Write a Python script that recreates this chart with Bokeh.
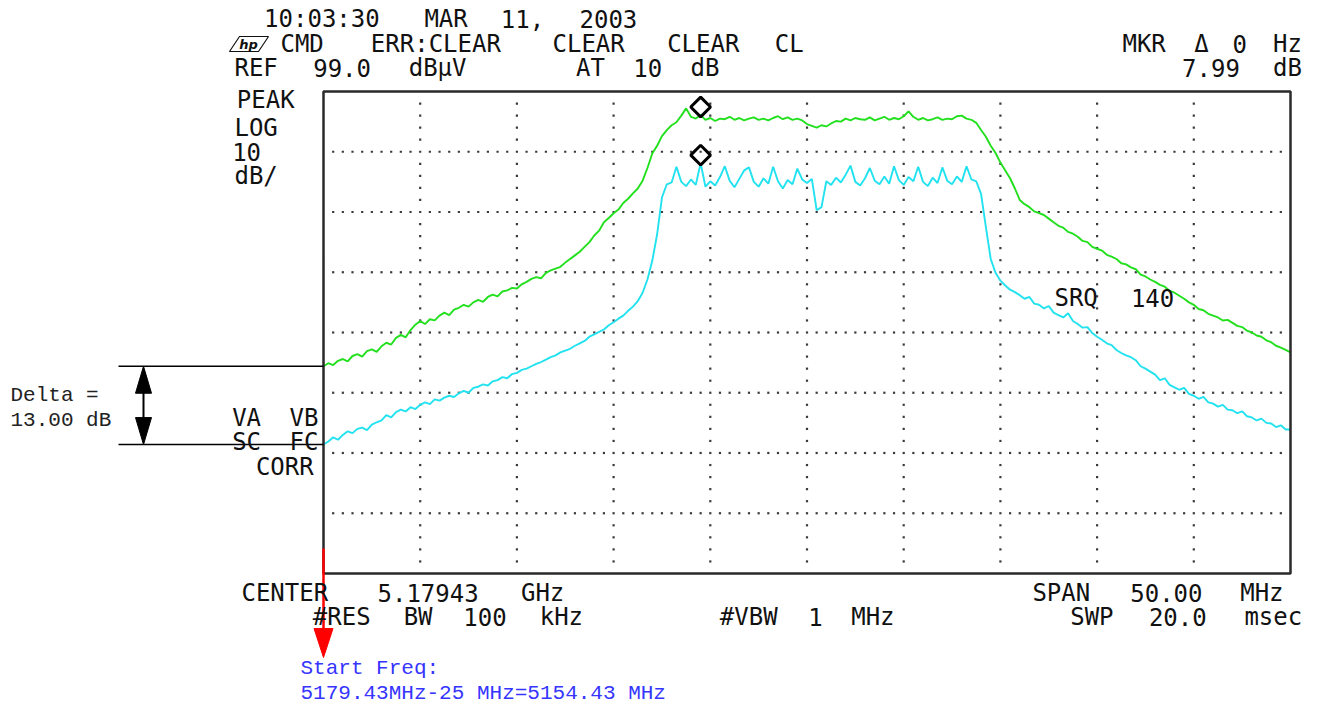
import re
import numpy as np
from bokeh.plotting import figure
from bokeh.models import Range1d, Label
from bokeh.embed import file_html
from bokeh.resources import INLINE

# ---- analyzer settings ----
CENTER_MHZ = 5179.43
SPAN_MHZ = 50.0
START_MHZ = CENTER_MHZ - SPAN_MHZ / 2
REF_DBUV = 99.0
DB_PER_DIV = 10
X_DIVS = 10
Y_DIVS = 8
STEP_MHZ = 0.25          # sweep point spacing
MKR_OFFSET_MHZ = 19.5    # marker position from start frequency

# trace A (green), dBuV, one value per sweep point from start to stop
trace_a = [
    53.4, 53.9, 53.6, 54.3, 54.6, 54.2, 55.1, 55.4, 55.0, 55.9, 56.2, 55.8, 56.7, 57.3, 57.0, 58.1, 58.6, 58.2, 59.4, 60.3, 60.9,
    60.4, 61.2, 61.0, 61.8, 62.3, 61.9, 62.8, 63.1, 63.6, 63.3, 64.0, 64.4, 64.1, 64.9, 65.3, 65.0, 65.8, 66.0, 66.4, 66.3,
    67.0, 67.4, 67.9, 68.2, 68.0, 68.9, 69.3, 69.6, 69.9, 70.6, 71.2, 71.8, 72.4, 73.2, 74.0, 75.1, 75.9, 77.3, 78.0, 78.8,
    79.4, 80.5, 81.2, 82.1, 82.9, 84.2, 86.3, 88.7, 90.0, 91.6, 92.6, 93.4, 93.9, 95.0, 96.2, 94.8, 94.5, 95.1, 94.3, 94.6,
    94.1, 94.5, 94.4, 94.8, 94.3, 94.6, 94.2, 94.5, 94.7, 94.3, 94.5, 94.2, 94.6, 94.9, 94.4, 94.7, 94.3, 94.5, 94.2, 93.6,
    93.3, 93.0, 93.4, 93.2, 93.7, 94.1, 94.0, 94.5, 94.2, 94.6, 94.4, 94.3, 94.7, 94.2, 94.5, 94.8, 94.3, 94.6, 94.4, 94.9,
    95.7, 94.8, 94.3, 94.6, 94.2, 94.4, 94.7, 94.3, 94.5, 94.4, 94.9, 95.0, 94.5, 94.3, 93.8, 92.6, 91.5, 90.0, 88.8, 87.2,
    85.9, 84.6, 82.9, 81.0, 80.3, 79.8, 79.1, 78.8, 78.5, 77.9, 77.3, 76.7, 76.4, 75.7, 75.4, 74.9, 74.2, 74.0, 73.2, 72.9,
    72.6, 71.9, 71.6, 71.2, 70.5, 70.3, 69.8, 69.5, 68.6, 68.3, 67.8, 67.4, 66.9, 66.6, 65.9, 65.6, 65.1, 64.6, 64.0, 63.6,
    62.9, 62.7, 62.1, 61.8, 61.5, 61.0, 61.1, 60.6, 60.1, 59.9, 59.3, 59.0, 58.5, 58.3, 57.7, 57.4, 56.8, 56.5, 56.1, 55.7,
]

# trace B (cyan), dBuV
trace_b = [
    40.4, 40.9, 41.6, 41.2, 42.0, 42.6, 42.3, 43.0, 43.2, 42.8, 43.7, 44.1, 44.4, 45.3, 44.9, 45.8, 46.2, 45.9, 46.6, 46.3, 47.0,
    47.4, 47.1, 47.9, 47.7, 48.2, 48.5, 48.3, 48.9, 49.3, 49.0, 49.8, 50.0, 50.4, 50.2, 50.9, 51.1, 51.6, 51.4, 52.1, 52.3,
    52.8, 53.0, 53.4, 53.8, 54.1, 54.5, 54.9, 55.2, 55.7, 56.0, 56.3, 56.8, 57.2, 57.6, 58.3, 58.7, 59.1, 59.5, 60.2, 60.7,
    61.3, 61.8, 62.6, 63.3, 64.2, 65.6, 67.8, 70.9, 75.3, 81.4, 83.6, 83.9, 86.5, 84.0, 83.3, 84.4, 83.5, 87.11, 83.2, 84.1,
    83.4, 84.8, 86.6, 84.2, 83.1, 84.5, 85.9, 86.4, 84.0, 83.2, 84.6, 83.7, 86.5, 84.1, 82.9, 84.3, 83.6, 86.2, 84.4, 83.8,
    84.5, 79.3, 79.8, 84.1, 83.5, 84.7, 83.9, 85.2, 86.7, 84.0, 83.4, 84.6, 86.3, 84.2, 83.6, 84.9, 83.7, 86.6, 84.3, 83.5,
    84.8, 84.1, 86.5, 84.0, 83.3, 84.7, 83.8, 86.4, 84.2, 83.6, 84.9, 84.0, 86.6, 84.4, 84.1, 82.0, 76.5, 71.2, 68.9, 67.6,
    66.8, 66.1, 65.7, 65.2, 64.6, 64.9, 63.8, 63.6, 63.0, 63.4, 62.3, 61.9, 61.5, 62.2, 60.9, 60.4, 59.8, 59.9, 58.9, 58.3,
    57.8, 57.2, 56.9, 56.1, 55.6, 55.2, 54.9, 54.4, 53.4, 53.0, 52.5, 52.0, 51.1, 51.4, 50.3, 49.9, 49.5, 49.8, 48.8, 48.5,
    48.0, 48.3, 47.4, 47.2, 46.7, 47.0, 46.2, 46.1, 45.6, 45.9, 45.1, 44.9, 44.4, 44.7, 44.0, 43.9, 43.3, 43.6, 42.9, 42.9,
]

assert len(trace_a) == len(trace_b)
freq = START_MHZ + STEP_MHZ * np.arange(len(trace_a))
mkr_i = int(round(MKR_OFFSET_MHZ / STEP_MHZ))
mkr_delta = trace_a[mkr_i] - trace_b[mkr_i]
start_delta = trace_a[0] - trace_b[0]
BOTTOM_DBUV = REF_DBUV - Y_DIVS * DB_PER_DIV

# ---- screen geometry (pixels) ----
W, H = 1325, 709
GX0, GX1, GY0, GY1 = 323, 1290, 91, 573      # graticule box
PX_MHZ = (GX1 - GX0) / SPAN_MHZ
PX_DB = (GY1 - GY0) / (Y_DIVS * DB_PER_DIV)


def fx(px):
    return START_MHZ + (px - GX0) / PX_MHZ


def fy(py):
    return REF_DBUV - (py - GY0) / PX_DB


p = figure(width=W, height=H, output_backend="svg", toolbar_location=None,
           x_range=Range1d(fx(0), fx(W)), y_range=Range1d(fy(H), fy(0)),
           x_axis_type=None, y_axis_type=None, min_border=0,
           outline_line_color=None, background_fill_color="white",
           border_fill_color="white")
p.grid.visible = False

# dotted graticule: 10 dots per horizontal division, 5 per vertical one
dx, dy = [], []
for k in range(1, Y_DIVS):
    lvl = REF_DBUV - k * DB_PER_DIV
    for j in range(1, X_DIVS * 10):
        dx.append(START_MHZ + j * SPAN_MHZ / (X_DIVS * 10))
        dy.append(lvl)
for m in range(1, X_DIVS):
    f = START_MHZ + m * SPAN_MHZ / X_DIVS
    for k in range(1, Y_DIVS * 5):
        if k % 5:
            dx.append(f)
            dy.append(REF_DBUV - k * DB_PER_DIV / 5)
p.scatter(dx, dy, marker="square", size=2.2, fill_color="#3a3a3a", line_color=None)

# traces
p.line(freq, trace_a, line_color="#22e01e", line_width=1.9)
p.line(freq, trace_b, line_color="#22e2f0", line_width=1.9)

# graticule frame
p.quad(left=[START_MHZ], right=[START_MHZ + SPAN_MHZ], bottom=[BOTTOM_DBUV], top=[REF_DBUV],
       fill_color=None, line_color="#2a2a2a", line_width=2.5)

# marker diamonds sit just above the trace point
mk_lift = 8 / PX_DB
p.scatter([freq[mkr_i]] * 2, [trace_a[mkr_i] + mk_lift, trace_b[mkr_i] + mk_lift],
          marker="square", angle=np.pi / 4, size=14, fill_color=None,
          line_color="black", line_width=3)

# ---- delta annotation between the trace start levels ----
a0, b0 = trace_a[0], trace_b[0]
xa = fx(143)
hl, hw = 27 / PX_DB, 8 / PX_MHZ
p.segment(x0=[fx(118)] * 2, y0=[a0, b0], x1=[START_MHZ] * 2, y1=[a0, b0],
          line_color="black", line_width=1.5)
p.segment(x0=[xa], y0=[a0 - hl / 2], x1=[xa], y1=[b0 + hl / 2], line_color="black", line_width=2)
p.patches(xs=[[xa - hw, xa, xa + hw], [xa - hw, xa, xa + hw]],
          ys=[[a0 - hl, a0, a0 - hl], [b0 + hl, b0, b0 + hl]],
          fill_color="black", line_color="black")

# ---- start frequency pointer ----
hwr = 9.5 / PX_MHZ
p.segment(x0=[START_MHZ], y0=[fy(548)], x1=[START_MHZ], y1=[fy(632)],
          line_color="#ff0000", line_width=2.5)
p.patch([START_MHZ - hwr, START_MHZ, START_MHZ + hwr], [fy(628), fy(657), fy(628)],
        fill_color="#ff0000", line_color="#ff0000")

# ---- analyzer screen text on a fixed character grid ----
HP_FONT = "DejaVu Sans Mono"
PITCH = 19.1


def hp_text(s, x0, y, right=False):
    if right:
        x0 = x0 - len(s) * PITCH
    for m in re.finditer(r"\S+", s):
        cx = x0 + (m.start() + len(m.group()) / 2) * PITCH
        p.add_layout(Label(x=fx(cx), y=fy(y), text=m.group(), text_font=HP_FONT,
                           text_font_size="24px", text_color="#111111",
                           text_align="center", text_baseline="middle"))


hp_text("10:03:30 MAR 11, 2003", 245, 18)
hp_text("CMD ERR:CLEAR CLEAR CLEAR CL", 273, 43)
hp_text("MKR Δ 0 Hz", 1306, 43, right=True)
hp_text(f"REF {REF_DBUV:.1f} dBµV     AT 10 dB", 227, 67)
hp_text(f"{mkr_delta:.2f} dB", 1306, 67, right=True)
hp_text("PEAK", 227, 99)
hp_text("LOG", 227, 127)
hp_text(f"{DB_PER_DIV}", 227, 151)
hp_text("dB/", 227, 175)
hp_text("VA VB", 227, 417)
hp_text("SC FC", 227, 441)
hp_text(" CORR", 227, 466)
hp_text("SRQ 140", 1047, 297)
hp_text(f"CENTER {CENTER_MHZ / 1000:.5f} GHz", 227, 592)
hp_text(f"SPAN {SPAN_MHZ:.2f} MHz", 1290, 592, right=True)
hp_text("#RES BW 100 kHz", 303, 616)
hp_text("#VBW 1 MHz", 710, 616)
hp_text("SWP 20.0 msec", 1311, 616, right=True)

# maker logo
p.patch([fx(229), fx(239), fx(268), fx(258)], [fy(51), fy(36), fy(36), fy(51)],
        fill_color=None, line_color="#111111", line_width=1.2)
p.add_layout(Label(x=fx(248), y=fy(44), text="hp", text_font="DejaVu Sans",
                   text_font_style="bold italic", text_font_size="13px",
                   text_color="#111111", text_align="center", text_baseline="middle"))

# ---- notes ----
NOTE_FONT = "Liberation Mono"
p.add_layout(Label(x=fx(10), y=fy(395), text="Delta =", text_font=NOTE_FONT,
                   text_font_size="21px", text_color="#222222", text_baseline="middle"))
p.add_layout(Label(x=fx(10), y=fy(420), text=f"{start_delta:.2f} dB", text_font=NOTE_FONT,
                   text_font_size="21px", text_color="#222222", text_baseline="middle"))
p.add_layout(Label(x=fx(300), y=fy(668), text="Start Freq:", text_font=NOTE_FONT,
                   text_font_size="21px", text_color="#3535ff", text_baseline="middle"))
p.add_layout(Label(x=fx(300), y=fy(693),
                   text=f"{CENTER_MHZ:.2f}MHz-{SPAN_MHZ / 2:.0f} MHz={START_MHZ:.2f} MHz",
                   text_font=NOTE_FONT, text_font_size="21px", text_color="#3535ff",
                   text_baseline="middle"))

with open("out.html", "w", encoding="utf-8") as fh:
    fh.write(file_html(p, INLINE, title="Spectrum"))
